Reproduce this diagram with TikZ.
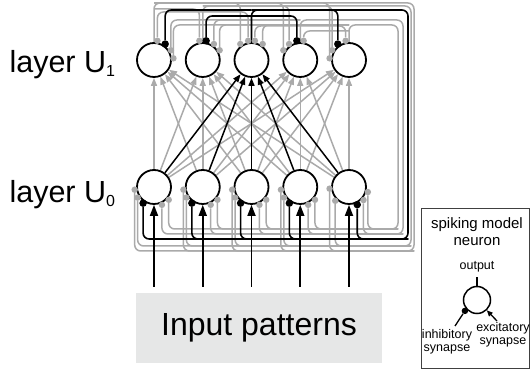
\documentclass[tikz,border=0pt]{standalone}
\usepackage{fontspec}
\setmainfont{Liberation Sans}
\usetikzlibrary{arrows.meta}
\usetikzlibrary{backgrounds}
\usetikzlibrary{positioning}

\definecolor{lgray}{RGB}{170,170,170}
\definecolor{boxfill}{RGB}{230,231,231}
\newcommand{\layersub}[1]{{\fontsize{16}{16}\selectfont\raisebox{-4pt}{#1}}}

\begin{document}
\begin{tikzpicture}[x=1pt, y=1pt,
    neuron/.style={circle, draw, line width=1.8pt, fill=white, minimum size=34pt, inner sep=0pt},
    gline/.style={lgray, line width=1.5pt, rounded corners=6pt},
    bline/.style={black, line width=1.6pt, rounded corners=6pt},
    gdot/.style={circle, fill=lgray, inner sep=0pt, minimum size=6.5pt},
    bdot/.style={circle, fill=black, inner sep=0pt, minimum size=7.5pt},
    garrow/.style={lgray, line width=1.5pt, -{Triangle[length=8pt,width=6pt]}},
    barrow/.style={black, line width=1.5pt, -{Triangle[length=8pt,width=6pt]}},
    inarrow/.style={black, line width=1.7pt, -{Triangle[length=11pt,width=8pt]}},
    smalltext/.style={font=\fontsize{12.5}{13.5}\selectfont, align=center, inner sep=1pt}]
    \useasboundingbox (0,0) rectangle (531,372);

    % Neurons of both layers
    \foreach \i in {1,...,5} {
        \pgfmathsetmacro\cx{154+48.75*(\i-1)}
        \node[neuron] (n1-\i) at (\cx,312) {};
        \node[neuron] (n0-\i) at (\cx,185) {};
        \coordinate (in\i) at (\cx,85);
    }

    % Layer labels
    \node[anchor=base west, font=\fontsize{30.5}{30}\selectfont] (lab1) at (6,299) {layer U\layersub{1}};
    \node[anchor=base west, font=\fontsize{30.5}{30}\selectfont] (lab0) at (6,169) {layer U\layersub{0}};

    % Input box
    \node[fill=boxfill, minimum width=246pt, minimum height=70pt, font=\fontsize{32}{32}\selectfont] (ibox) at (259,44) {Input patterns};

    % Synapse dots (source k in U1 -> neuron j)
    \foreach \k/\aa/\ab/\st in {1/188/185/gdot, 2/213/225/gdot, 3/236/295/bdot, 4/294/318/gdot, 5/319/345/gdot} {
        \foreach \j in {1,...,5} {
            \ifnum\j<5 \def\ang{\aa}\else\def\ang{\ab}\fi
            \node[\st] (d0-\k-\j) at ([shift={(\ang:19.5)}]n0-\j.center) {};
            \ifnum\j=\k\else
                \pgfmathsetmacro\ang{\k>\j ? 105-25*(\k-\j) : 75-25*(\k-\j)}
                \node[\st] (d1-\k-\j) at ([shift={(\ang:19.5)}]n1-\j.center) {};
            \fi
        }
    }

    \begin{scope}[on background layer]
        % Excitatory connections U0 -> U1
        \foreach \i in {1,...,5}
            \foreach \j in {1,2,4,5}
                \draw[garrow] (n0-\i) -- (n1-\j);

        % Inhibitory feedback loops
        \foreach \k/\yt/\xr/\yb/\col in {1/369/414/121/gline, 2/366/411/126/gline, 4/352/403/138/gline, 5/347/398/143/gline, 3/362/408/133/bline} {
            \draw[\col] (n1-\k.north) |- (\xr,\yt) |- (\xr-20,\yb);
            \foreach \j in {1,...,5} {
                \draw[\col] (d0-\k-\j) |- (\xr,\yb);
                \ifnum\j=\k\else
                    \pgfmathsetmacro\h{abs(\k-\j)==1 ? \yt-6 : \yt}
                    \draw[\col] (d1-\k-\j) |- (n1-\k.north |- 0,\h);
                \fi
            }
        }

        % Winner and inputs
        \foreach \i in {1,...,5} {
            \draw[barrow] (n0-\i) -- (n1-3);
            \draw[inarrow] (in\i) -- (n0-\i);
        }
    \end{scope}

    % Spiking model neuron
    \node[draw=darkgray, line width=0.8pt, minimum width=108pt, minimum height=160pt] (mbox) at (475,84) {};
    \node[font=\fontsize{15}{17}\selectfont, align=center] (smtitle) at (477,140) {spiking model\\neuron};
    \node[circle, draw, line width=1.5pt, minimum size=27pt, inner sep=0pt] (sm) at (477,72) {};
    \coordinate (smout) at (477,95);
    \draw[line width=1.3pt] (sm) -- (smout);
    \node[smalltext, above=4pt of smout] (smlab) {output};
    \node[bdot, minimum size=6.5pt] (smi) at ([shift={(222:2)}]sm.222) {};
    \coordinate (smia) at (455,46);
    \draw[line width=1.3pt] (smi) -- (smia);
    \coordinate (smea) at (497,51);
    \draw[line width=1.3pt, -{Triangle[length=6pt,width=5pt]}] (smea) -- (sm);
    \node[smalltext] (inhlab) at (447,30) {inhibitory\\synapse};
    \node[smalltext] (exclab) at (503,37) {excitatory\\synapse};

\end{tikzpicture}
\end{document}
